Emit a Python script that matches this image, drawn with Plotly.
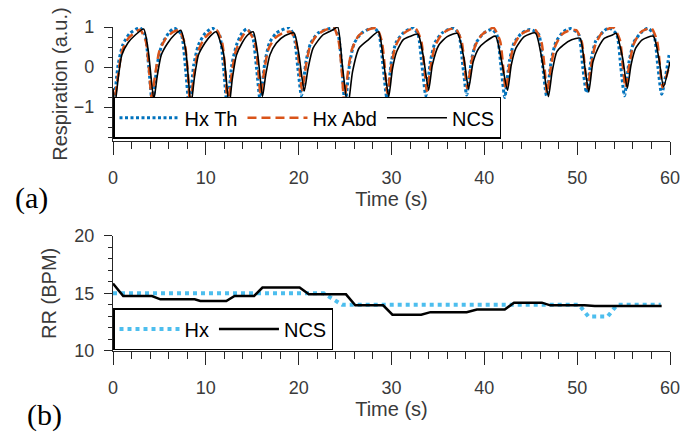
import plotly.graph_objects as go
from plotly.subplots import make_subplots

# ---------------- Panel (a): respiration waveforms ----------------
t_th = [0.0, 0.05, 0.55, 1.05, 1.8, 2.9, 3.45, 3.85, 4.25,
        4.75, 5.25, 6.0, 6.6, 7.35, 7.8, 8.2,
        8.7, 9.2, 9.95, 10.7, 11.45, 11.9, 12.3,
        12.8, 13.3, 13.9, 14.4, 15.0, 15.45, 15.85,
        16.35, 16.85, 17.6, 18.9, 19.45, 19.9, 20.3,
        20.8, 21.3, 22.1, 23.7, 24.25, 24.65, 25.0,
        25.5, 26.0, 26.8, 28.1, 28.65, 29.1, 29.5,
        30.0, 30.5, 31.3, 32.3, 32.85, 33.3, 33.7,
        34.2, 34.7, 35.5, 36.7, 37.25, 37.7, 38.1,
        38.6, 39.1, 39.9, 40.8, 41.35, 41.8, 42.2,
        42.7, 43.2, 44.0, 44.9, 45.85, 46.3, 46.7,
        47.2, 47.7, 48.5, 49.3, 50.15, 50.6, 51.0,
        51.5, 52.0, 52.8, 53.4, 54.25, 54.7, 55.1,
        55.6, 56.1, 56.9, 57.6, 58.25, 58.7, 59.1, 59.9]
hx_th = [-0.92, -0.95, 0.05, 0.55, 0.84, 0.98, 0.8, 0.0, -0.93,
         0.05, 0.55, 0.85, 0.97, 0.82, 0.0, -0.97,
         0.05, 0.55, 0.85, 0.97, 0.82, 0.0, -0.97,
         0.05, 0.55, 0.85, 0.95, 0.8, 0.0, -0.83,
         0.1, 0.6, 0.85, 0.98, 0.82, 0.0, -0.72,
         0.15, 0.6, 0.85, 0.97, 0.8, 0.0, -0.95,
         0.1, 0.6, 0.85, 0.99, 0.82, 0.0, -0.78,
         0.15, 0.62, 0.86, 0.98, 0.82, 0.0, -0.72,
         0.15, 0.62, 0.86, 0.97, 0.82, 0.0, -0.7,
         0.15, 0.6, 0.84, 0.94, 0.8, 0.0, -0.76,
         0.15, 0.6, 0.84, 0.94, 0.82, 0.0, -0.72,
         0.15, 0.62, 0.88, 0.96, 0.82, 0.0, -0.64,
         0.18, 0.65, 0.88, 0.98, 0.82, 0.0, -0.72,
         0.15, 0.62, 0.86, 0.97, 0.82, 0.0, -0.68, 0.3]

t_abd = [0.0, 0.1, 0.55, 0.95, 1.65, 2.9, 3.55, 3.9, 4.15,
         4.6, 5.0, 5.7, 6.5, 7.1, 7.7, 8.05, 8.3,
         8.75, 9.15, 9.85, 10.6, 11.15, 11.75, 12.1, 12.35,
         12.8, 13.2, 13.9, 14.5, 15.3, 15.65, 15.9,
         16.35, 16.75, 17.45, 18.3, 19.15, 19.75, 20.1, 20.35,
         20.8, 21.2, 21.9, 22.8, 23.8, 24.3, 24.65, 24.9,
         25.35, 25.75, 26.45, 27.3, 28.4, 28.95, 29.3, 29.55,
         30.0, 30.4, 31.1, 31.9, 32.6, 33.2, 33.55, 33.8,
         34.25, 34.65, 35.35, 36.1, 36.9, 37.55, 37.9, 38.15,
         38.6, 39.0, 39.7, 40.4, 41.0, 41.7, 42.05, 42.3,
         42.75, 43.15, 43.85, 44.6, 45.5, 46.15, 46.5, 46.75,
         47.2, 47.6, 48.3, 49.0, 49.9, 50.5, 50.85, 51.1,
         51.55, 51.95, 52.65, 53.3, 53.9, 54.6, 54.95, 55.2,
         55.65, 56.05, 56.75, 57.4, 58.0, 58.6, 58.95, 59.2, 60.0]
hx_abd = [-0.75, -0.9, -0.2, 0.38, 0.72, 0.93, 0.63, -0.12, -0.76,
          -0.1, 0.4, 0.72, 0.88, 0.92, 0.62, -0.1, -0.92,
          -0.15, 0.38, 0.72, 0.88, 0.92, 0.62, -0.12, -0.93,
          -0.15, 0.38, 0.75, 0.92, 0.6, -0.1, -0.7,
          0.0, 0.45, 0.72, 0.85, 0.88, 0.58, -0.05, -0.58,
          0.05, 0.5, 0.78, 0.92, 0.97, 0.65, -0.1, -0.87,
          -0.05, 0.45, 0.78, 0.92, 0.97, 0.65, -0.05, -0.66,
          0.05, 0.5, 0.8, 0.93, 0.96, 0.65, -0.05, -0.6,
          0.05, 0.5, 0.8, 0.93, 0.96, 0.65, -0.05, -0.53,
          0.1, 0.52, 0.8, 0.92, 0.98, 0.65, -0.05, -0.56,
          0.1, 0.52, 0.8, 0.9, 0.92, 0.62, -0.05, -0.66,
          0.05, 0.5, 0.8, 0.9, 0.92, 0.62, -0.05, -0.53,
          0.1, 0.55, 0.85, 0.95, 0.99, 0.68, -0.05, -0.51,
          0.1, 0.55, 0.85, 0.94, 0.97, 0.66, -0.05, -0.51, 0.1]

t_ncs = [0.0, 0.2, 0.55, 0.95, 1.6, 2.4, 3.3, 3.8, 4.4,
         4.75, 5.2, 5.9, 6.6, 7.3, 7.85, 8.4,
         8.75, 9.2, 9.9, 10.5, 11.1, 11.9, 12.5,
         12.85, 13.3, 13.9, 14.5, 15.1, 15.6, 16.1,
         16.45, 16.9, 17.6, 18.5, 19.5, 20.0, 20.6,
         21.0, 21.55, 22.6, 23.7, 24.2, 24.7, 25.3,
         25.8, 26.5, 27.5, 28.6, 29.1, 29.7,
         30.1, 30.55, 31.25, 31.95, 32.85, 33.4, 34.0,
         34.4, 35.1, 36.0, 37.1, 37.8, 38.3,
         38.8, 39.4, 40.1, 41.2, 41.8, 42.5,
         42.9, 43.4, 44.3, 45.5, 46.2, 46.9,
         47.3, 47.8, 48.5, 49.4, 50.3, 50.8, 51.25,
         51.7, 52.25, 52.95, 53.8, 54.2, 54.9, 55.4,
         55.8, 56.3, 57.0, 58.2, 58.8, 59.3, 60.0]
ncs_resp = [-0.53, -0.95, -0.3, 0.3, 0.6, 0.8, 0.95, 0.4, -0.81,
            -0.25, 0.3, 0.6, 0.8, 0.92, 0.4, -0.95,
            -0.3, 0.3, 0.6, 0.78, 0.88, 0.35, -0.97,
            -0.3, 0.3, 0.6, 0.8, 0.88, 0.3, -0.74,
            -0.2, 0.3, 0.6, 0.78, 0.85, 0.35, -0.6,
            -0.05, 0.47, 0.8, 0.93, 1.0, 0.05, -0.99,
            -0.12, 0.47, 0.68, 0.88, 0.22, -0.74,
            -0.05, 0.38, 0.68, 0.76, 0.82, 0.3, -0.58,
            0.05, 0.55, 0.76, 0.84, 0.22, -0.55,
            0.13, 0.47, 0.63, 0.77, 0.22, -0.58,
            0.05, 0.47, 0.76, 0.85, 0.2, -0.74,
            -0.12, 0.38, 0.55, 0.68, 0.72, 0.05, -0.62,
            0.13, 0.47, 0.72, 0.8, 0.84, 0.22, -0.53,
            0.05, 0.47, 0.68, 0.77, 0.22, -0.49, 0.13]

# ---------------- Panel (b): respiration rate ----------------
t_rr_hx = [0.0, 22.7, 24.7, 50.2, 51.2, 53.3, 54.3, 59.0]
rr_hx = [15.0, 15.0, 14.0, 14.0, 13.0, 13.0, 14.0, 14.0]

t_rr_ncs = [0.0, 1.1, 4.2, 5.1, 8.8, 9.4, 12.2, 13.1, 15.2, 16.1, 20.1, 21.1,
            25.1, 26.1, 29.1, 30.1, 33.2, 34.2, 38.1, 39.2, 42.2, 43.2,
            46.2, 47.1, 50.8, 51.9, 59.1]
rr_ncs = [15.85, 14.77, 14.77, 14.48, 14.48, 14.33, 14.33, 14.77, 14.77, 15.5,
          15.5, 14.91, 14.91, 13.96, 13.96, 13.15, 13.15, 13.37, 13.37, 13.6,
          13.6, 14.19, 14.19, 13.96, 13.96, 13.9, 13.9]

x_ticks = [0, 10, 20, 30, 40, 50, 60]
resp_ticks = [-1, 0, 1]
rr_ticks = [10, 15, 20]

FONT = "Liberation Sans, Arial, sans-serif"
AX = "#262626"
TXT = "#3a3a3a"

fig = make_subplots(rows=2, cols=1, vertical_spacing=0.1)

fig.add_trace(go.Scatter(x=t_th, y=hx_th, name="Hx Th", mode="lines",
                         line=dict(color="#0072BD", width=3, dash="3px,2.5px",
                                   shape="spline", smoothing=0.6),
                         legend="legend"), row=1, col=1)
fig.add_trace(go.Scatter(x=t_abd, y=hx_abd, name="Hx Abd", mode="lines",
                         line=dict(color="#D95319", width=2.5, dash="9px,5px",
                                   shape="spline", smoothing=0.6),
                         legend="legend"), row=1, col=1)
fig.add_trace(go.Scatter(x=t_ncs, y=ncs_resp, name="NCS", mode="lines",
                         line=dict(color="black", width=1.6,
                                   shape="spline", smoothing=0.6),
                         legend="legend"), row=1, col=1)

fig.add_trace(go.Scatter(x=t_rr_hx, y=rr_hx, name="Hx", mode="lines",
                         line=dict(color="#4DBEEE", width=4, dash="4px,4px"),
                         legend="legend2"), row=2, col=1)
fig.add_trace(go.Scatter(x=t_rr_ncs, y=rr_ncs, name="NCS", mode="lines",
                         line=dict(color="black", width=2.5),
                         legend="legend2"), row=2, col=1)

axis_common = dict(showline=True, linecolor=AX, linewidth=1.3, ticks="outside",
                   tickcolor=AX, tickwidth=1.3, showgrid=False, zeroline=False,
                   tickfont=dict(family=FONT, size=18, color=TXT),
                   title_font=dict(family=FONT, size=20, color=TXT))

for r in (1, 2):
    fig.update_xaxes(range=[0, 60], tickvals=x_ticks, ticklen=13,
                     minor=dict(dtick=2, ticklen=7, tickcolor=AX, tickwidth=1.3, ticks="outside"),
                     title_text="Time (s)", title_standoff=2, ticklabelstandoff=7,
                     row=r, col=1, **axis_common)

fig.update_yaxes(range=[-1.85, 1], tickvals=resp_ticks, ticklen=8,
                 minor=dict(dtick=0.25, ticklen=4, tickcolor=AX, tickwidth=1.3, ticks="outside"),
                 title_text="Respiration (a.u.)", title_standoff=0, ticklabelstandoff=6,
                 row=1, col=1, **axis_common)
fig.update_yaxes(range=[10, 20], tickvals=rr_ticks, ticklen=8,
                 minor=dict(dtick=1, ticklen=4, tickcolor=AX, tickwidth=1.3, ticks="outside"),
                 title_text="RR (BPM)", title_standoff=12, ticklabelstandoff=6,
                 row=2, col=1, **axis_common)

fig.update_layout(
    width=691, height=440,
    margin=dict(l=113, r=11, t=27, b=89),
    paper_bgcolor="white", plot_bgcolor="white",
    font=dict(family=FONT, size=18, color="black"),
    xaxis=dict(domain=[0, 1], anchor="y"),
    yaxis=dict(domain=[0.648, 1.0]),
    xaxis2=dict(domain=[0, 1], anchor="y2"),
    yaxis2=dict(domain=[0.0, 0.356]),
    legend=dict(orientation="h", x=0, y=0.655, xanchor="left", yanchor="bottom",
                bgcolor="white", bordercolor="black", borderwidth=1.5,
                font=dict(family=FONT, size=20, color="black"), itemwidth=60,
                tracegroupgap=0),
    legend2=dict(orientation="h", x=0, y=0.003, xanchor="left", yanchor="bottom",
                 bgcolor="white", bordercolor="black", borderwidth=1.5,
                 font=dict(family=FONT, size=20, color="black"), itemwidth=60),
    showlegend=True,
    annotations=[
        dict(text="(a)", xref="paper", yref="paper", x=-0.147, y=0.472,
             xanchor="center", yanchor="middle", showarrow=False,
             font=dict(family="Liberation Serif, Times New Roman, serif", size=30, color="black")),
        dict(text="(b)", xref="paper", yref="paper", x=-0.1235, y=-0.199,
             xanchor="center", yanchor="middle", showarrow=False,
             font=dict(family="Liberation Serif, Times New Roman, serif", size=30, color="black")),
    ],
)

fig.write_html("out.html", config={"displayModeBar": False},
               post_script="document.body.style.margin='0';")
